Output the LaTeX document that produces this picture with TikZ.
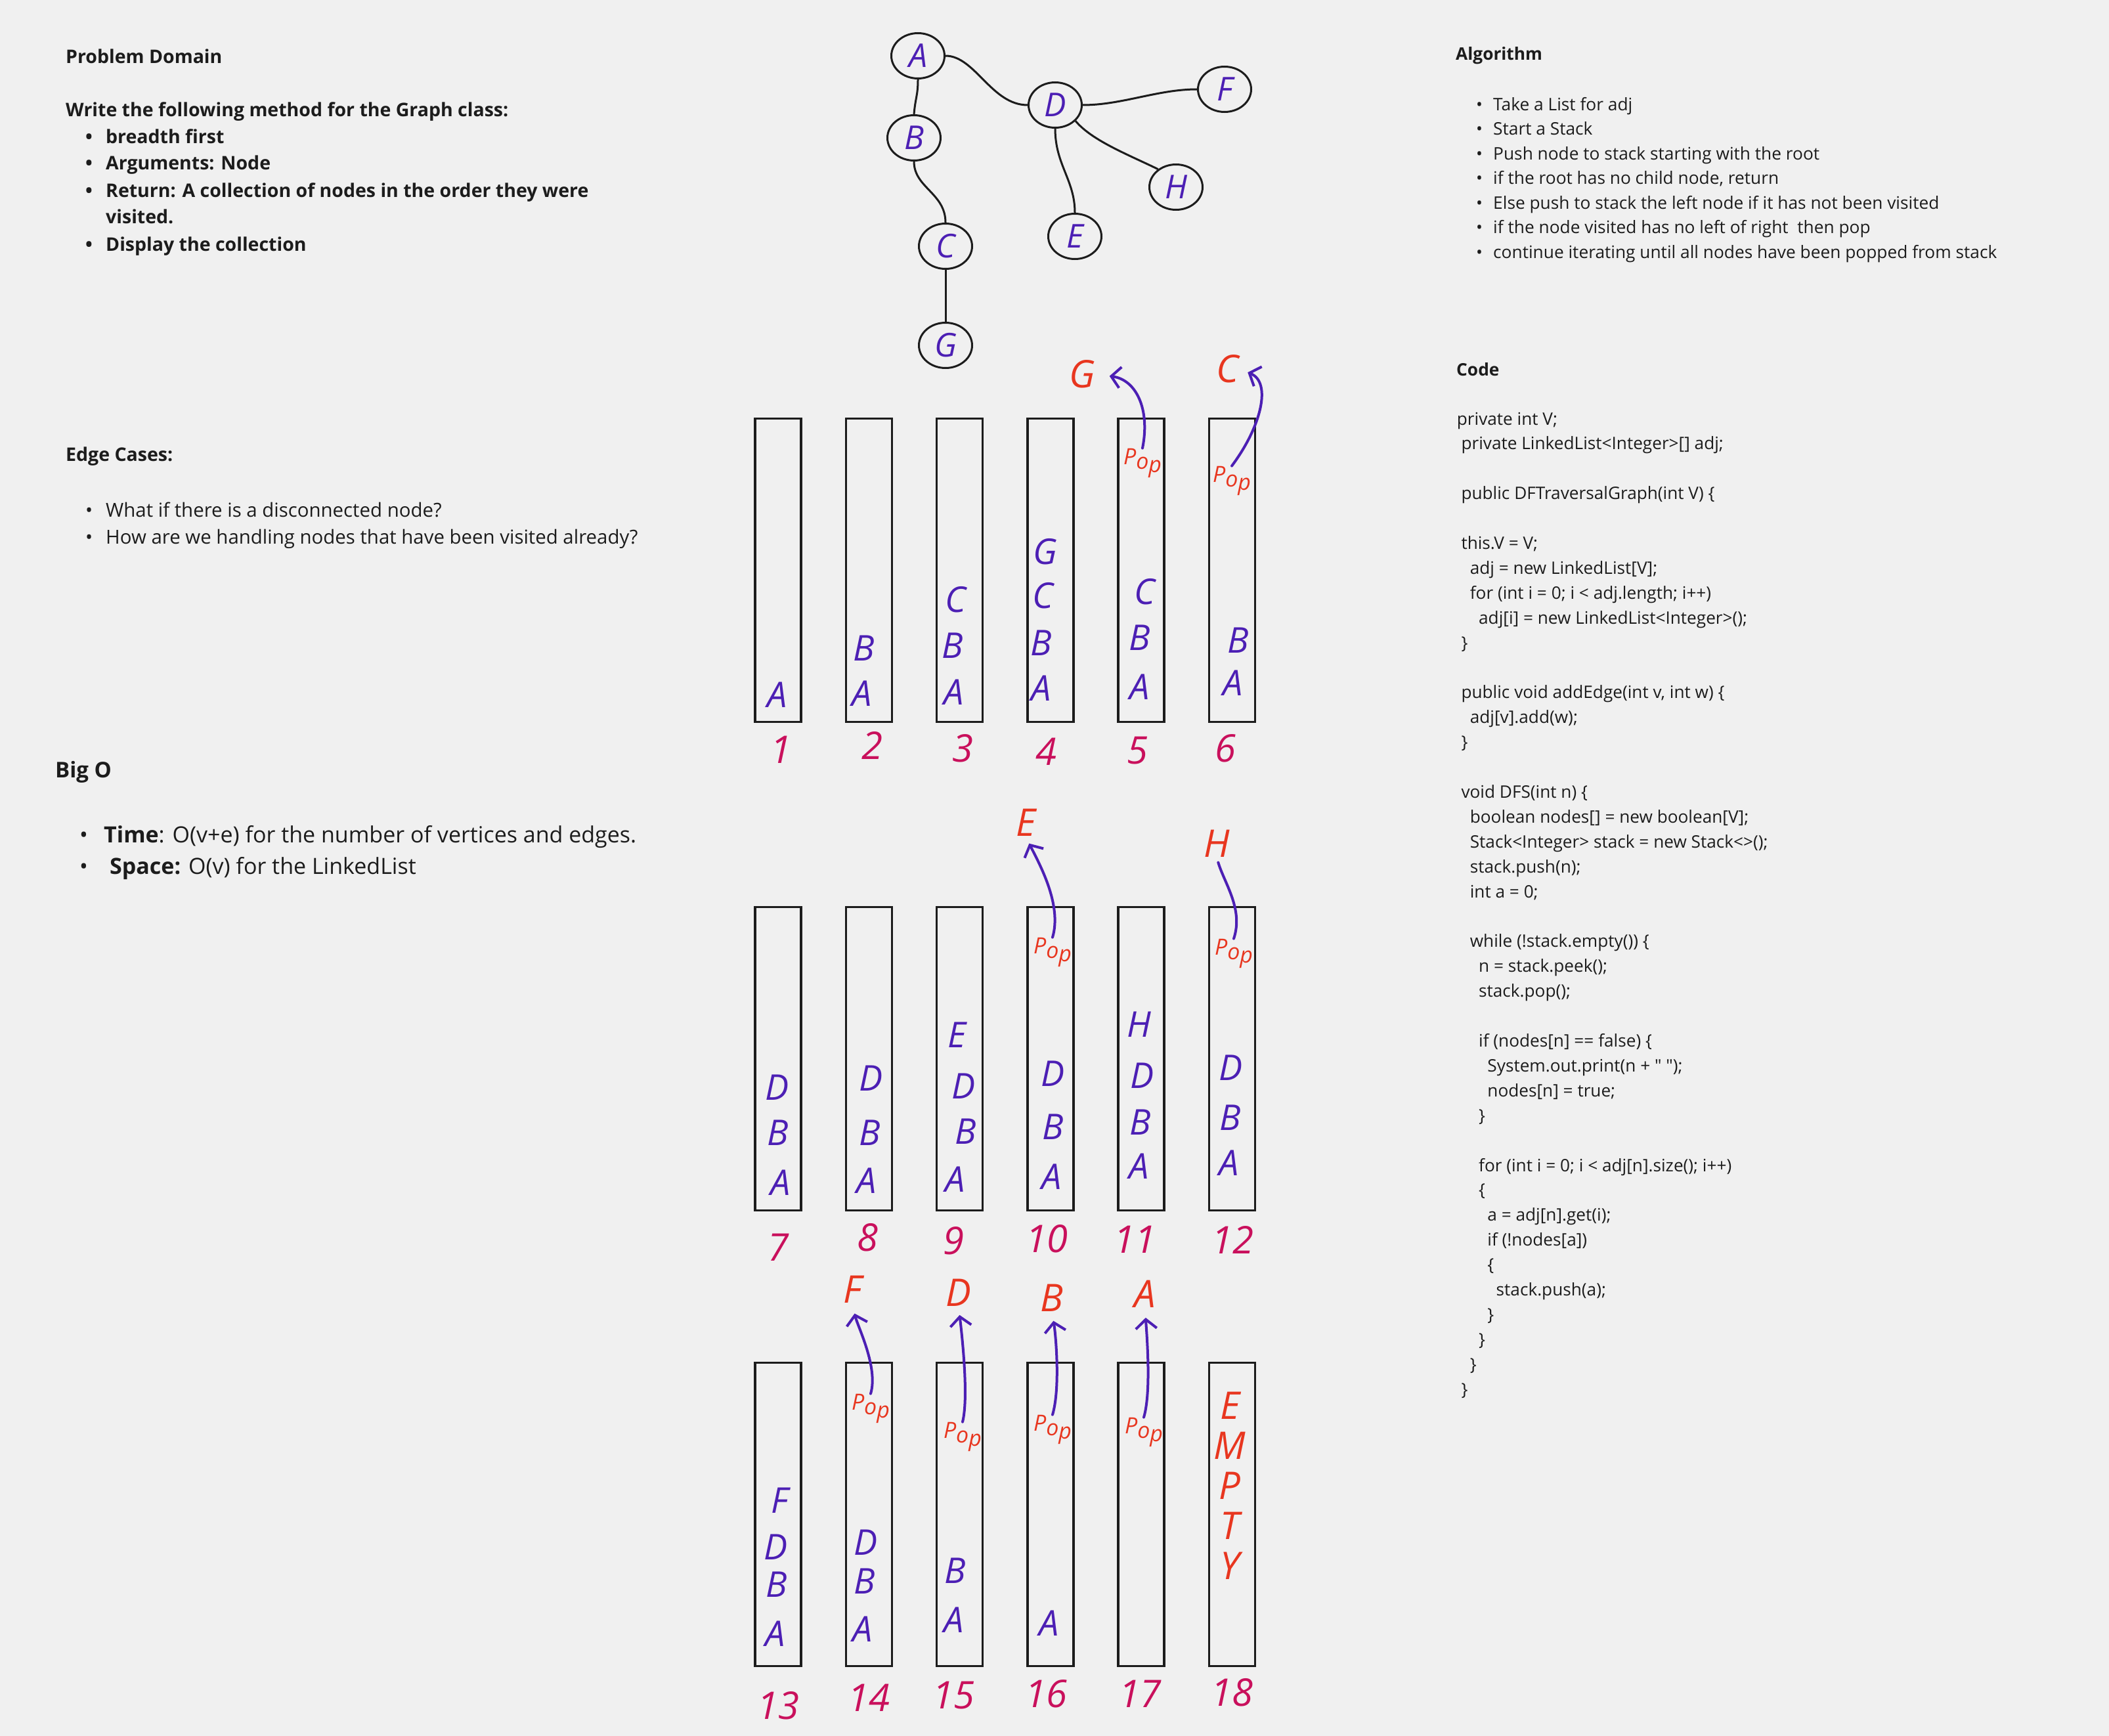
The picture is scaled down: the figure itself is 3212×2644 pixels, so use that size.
\documentclass[tikz,border=0pt]{standalone}
\usepackage{fontspec}
\setmainfont{Open Sans}
\usetikzlibrary{positioning,shapes.geometric,arrows.meta}

\definecolor{bg}{HTML}{F0F0F0}
\definecolor{ink}{HTML}{1C1C1C}
\definecolor{pen}{HTML}{4C1FB4}
\definecolor{redpen}{HTML}{E8361F}
\definecolor{numpen}{HTML}{C9105C}

\def\fs#1{\fontsize{#1}{#1}\selectfont}
\def\sx{1185}  % first stack column
\def\sd{138.3} % stack pitch
\def\sw{70}
\def\sh{462}
\def\pop{P\raisebox{-7pt}{o}\raisebox{-12pt}{p}}

\begin{document}
\begin{tikzpicture}[x=1pt,y=-1pt,
    nodes={inner sep=0},
    txt/.style={anchor=base west, text=ink, font=\fs{29.4}},
    txtb/.style={txt, font=\bfseries\fs{28.5}},
    alg/.style={txt, font=\fs{26.3}},
    code/.style={txt, font=\fs{26.2}},
    stackbox/.style={draw=ink, line width=3.5pt, minimum width=\sw*1pt, minimum height=\sh*1pt},
    gnode/.style={ellipse, draw=ink, line width=3pt, minimum width=81pt, minimum height=69pt,
        text=pen, font=\itshape\fs{50}},
    edge/.style={draw=ink, line width=3pt},
    hand/.style={text=pen, font=\itshape\fs{54}},
    popped/.style={text=redpen, font=\itshape\fs{58}},
    poplbl/.style={text=redpen, font=\itshape\fs{34}},
    numlbl/.style={text=numpen, font=\itshape\fs{58}},
    popline/.style={draw=pen, line width=4pt, line cap=round},
    poparrow/.style={popline, -{Straight Barb[length=14pt,width=32pt]}},
  ]
\useasboundingbox (0,0) rectangle (3212,2644);
\fill[bg] (0,0) rectangle (3212,2644);

% problem domain
\node[txtb] (pdh) at (100,97) {Problem Domain};
\node[txtb] (pdw) at (100,177) {Write the following method for the Graph class:};
\foreach \y/\txt [count=\i] in {218/{breadth first}, 258/{Arguments: Node},
    300/{Return: A collection of nodes in the order they were}, 382/{Display the collection}} {
  \node[txtb] (pdd\i) at (130,\y) {•};
  \node[txtb] (pdl\i) at (161,\y) {\txt};
}
\node[txtb] (pdv) at (161,340) {visited.};

% edge cases
\node[txtb] (ech) at (100,702) {Edge Cases:};
\foreach \y/\txt [count=\i] in {787/{What if there is a disconnected node?},
    828/{How are we handling nodes that have been visited already?}} {
  \node[txt] (ecd\i) at (130,\y) {•};
  \node[txt] (ecl\i) at (161,\y) {\txt};
}

% big o
\node[txt, font=\bfseries\fs{33}] (boh) at (84,1184) {Big O};
\node[txt, font=\fs{34}] (bod1) at (121,1283) {•};
\node[txt, font=\fs{34}] (bol1) at (158,1283) {\textbf{Time}: O(v+e) for the number of vertices and edges.};
\node[txt, font=\fs{34}] (bod2) at (121,1331) {•};
\node[txt, font=\fs{34}] (bol2) at (167,1331) {\textbf{Space:} O(v) for the LinkedList};

% algorithm
\node[txtb, font=\bfseries\fs{26.3}] (alh) at (2217,92) {Algorithm};
\foreach \txt [count=\i] in {{Take a List for adj}, {Start a Stack},
    {Push node to stack starting with the root}, {if the root has no child node, return},
    {Else push to stack the left node if it has not been visited},
    {if the node visited has no left of right~ then pop},
    {continue iterating until all nodes have been popped from stack}} {
  \node[alg] (ald\i) at (2248,130.5+37.5*\i) {•};
  \node[alg] (all\i) at (2274,130.5+37.5*\i) {\txt};
}

% code
\node[txtb, font=\bfseries\fs{26.3}] (coh) at (2218,572) {Code};
\foreach \k/\ind/\txt in {0/0.5/{private int V;}, 1/1/{private LinkedList<Integer>[] adj;},
    3/1/{public DFTraversalGraph(int V) \{}, 5/1/{this.V = V;},
    6/2/{adj = new LinkedList[V];}, 7/2/{for (int i = 0; i < adj.length; i++)},
    8/3/{adj[i] = new LinkedList<Integer>();}, 9/1/{\}},
    11/1/{public void addEdge(int v, int w) \{}, 12/2/{adj[v].add(w);}, 13/1/{\}},
    15/1/{void DFS(int n) \{}, 16/2/{boolean nodes[] = new boolean[V];},
    17/2/{Stack<Integer> stack = new Stack<>();}, 18/2/{stack.push(n);}, 19/2/{int a = 0;},
    21/2/{while (!stack.empty()) \{}, 22/3/{n = stack.peek();}, 23/3/{stack.pop();},
    25/3/{if (nodes[n] == false) \{}, 26/4/{System.out.print(n + \textquotedbl{} \textquotedbl);},
    27/4/{nodes[n] = true;}, 28/3/{\}},
    30/3/{for (int i = 0; i < adj[n].size(); i++)}, 31/3/{\{},
    32/4/{a = adj[n].get(i);}, 33/4/{if (!nodes[a])}, 34/4/{\{},
    35/5/{stack.push(a);}, 36/4/{\}}, 37/3/{\}}, 38/2/{\}}, 39/1/{\}}} {
  \node[code] (c\k) at (2212+13.3*\ind,647+37.9*\k) {\txt};
}

% graph
\node[gnode] (A) at (1398,85) {A};
\node[gnode] (B) at (1392,210) {B};
\node[gnode] (C) at (1440,375) {C};
\node[gnode] (G) at (1440,526) {G};
\node[gnode] (D) at (1607,160) {D};
\node[gnode] (F) at (1865,136) {F};
\node[gnode] (H) at (1791,285) {H};
\node[gnode] (E) at (1637,360) {E};
\draw[edge] (A.south) .. controls +(0,25) and +(2,-25) .. (B.north);
\draw[edge] (A.east) .. controls +(45,0) and +(-55,0) .. (D.west);
\draw[edge] (B.south) .. controls +(0,40) and +(0,-45) .. (C.north);
\draw[edge] (C) -- (G);
\draw[edge] (D.east) .. controls +(60,0) and +(-60,0) .. (F.west);
\draw[edge] (D.south) .. controls +(0,55) and +(0,-50) .. (E.north);
\draw[edge] (D.-38) .. controls +(25,30) and +(-45,-22) .. (H.135);

% stacks
\foreach \r/\yc in {0/868.5,1/1612.5,2/2306.5}
  \foreach \c in {0,...,5} {
    \pgfmathtruncatemacro\k{6*\r+\c+1}
    \node[stackbox] (s\k) at (\sx+\sd*\c,\yc) {};
  }
\foreach \k/\x/\y in {1/1189/1142, 2/1328/1135, 3/1466/1140, 4/1593/1145, 5/1732/1143, 6/1866/1140,
    7/1185/1900, 8/1321/1885, 9/1452/1890, 10/1594/1887, 11/1728/1888, 12/1877/1888,
    13/1185/2598, 14/1323/2586, 15/1452/2582, 16/1593/2580, 17/1736/2580, 18/1876/2578}
  \node[numlbl] (n\k) at (\x,\y) {\k};

% stack contents
\foreach \nm/\x/\y/\txt in {1a/1184/1058/A,
    2b/1316/987/B, 2a/1313/1056/A,
    3c/1455/913/C, 3b/1451/983/B, 3a/1453/1054/A,
    4g/1592/840/G, 4c/1588/907/C, 4b/1586/979/B, 4a/1586/1048/A,
    5c/1743/901/C, 5b/1736/971/B, 5a/1736/1046/A,
    6b/1886/975/B, 6a/1878/1040/A,
    7d/1184/1656/D, 7b/1185/1725/B, 7a/1189/1801/A,
    8d/1327/1642/D, 8b/1325/1725/B, 8a/1320/1798/A,
    9e/1457/1576/E, 9d/1468/1654/D, 9b/1471/1723/B, 9a/1455/1796/A,
    10d/1604/1635/D, 10b/1604/1716/B, 10a/1602/1792/A,
    11h/1735/1560/H, 11d/1740/1638/D, 11b/1737/1709/B, 11a/1735/1776/A,
    12d/1875/1626/D, 12b/1874/1702/B, 12a/1872/1771/A,
    13f/1187/2285/F, 13d/1182/2356/D, 13b/1183/2413/B, 13a/1181/2488/A,
    14d/1319/2349/D, 14b/1317/2408/B, 14a/1314/2481/A,
    15b/1455/2392/B, 15a/1453/2467/A,
    16a/1598/2472/A}
  \node[hand] (l\nm) at (\x,\y) {\txt};
\node[popped, align=center, font=\itshape\fontsize{58}{61}\selectfont] (empty) at (1873,2263) {E\\M\\P\\T\\Y};

% popped nodes
\foreach \nm/\x/\y/\txt in {5/1648/570/G, 6/1870/562/C, 10/1562/1253/E, 12/1853/1285/H,
    14/1298/1964/F, 15/1460/1969/D, 16/1602/1977/B, 17/1744/1971/A}
  \node[popped] (r\nm) at (\x,\y) {\txt};
\foreach \nm/\x/\y in {5/1740/705, 6/1876/732, 10/1603/1450, 12/1879/1452,
    14/1326/2145, 15/1466/2188, 16/1603/2177, 17/1742/2181}
  \node[poplbl] (p\nm) at (\x,\y) {\pop};
\draw[poparrow, shorten >=22pt] (p5.north) .. controls +(12,-60) and +(62,8) .. (r5.east);
\draw[poparrow, shorten >=14pt] (p6.north) .. controls +(45,-60) and +(50,20) .. (r6.east);
\draw[poparrow, shorten >=12pt] (p10.north) .. controls +(15,-50) and +(20,40) .. (r10.south);
\draw[popline, shorten >=8pt] (p12.north) .. controls +(15,-45) and +(12,40) .. (r12.south);
\draw[poparrow, shorten >=16pt] (p14.north) .. controls +(12,-40) and +(8,35) .. (r14.south);
\draw[poparrow, shorten >=13pt] (p15.north) .. controls +(10,-40) and +(4,35) .. (r15.south);
\draw[poparrow, shorten >=14pt] (p16.north) .. controls +(12,-40) and +(6,35) .. (r16.south);
\draw[poparrow, shorten >=15pt] (p17.north) .. controls +(12,-40) and +(2,35) .. (r17.south);
\end{tikzpicture}
\end{document}
